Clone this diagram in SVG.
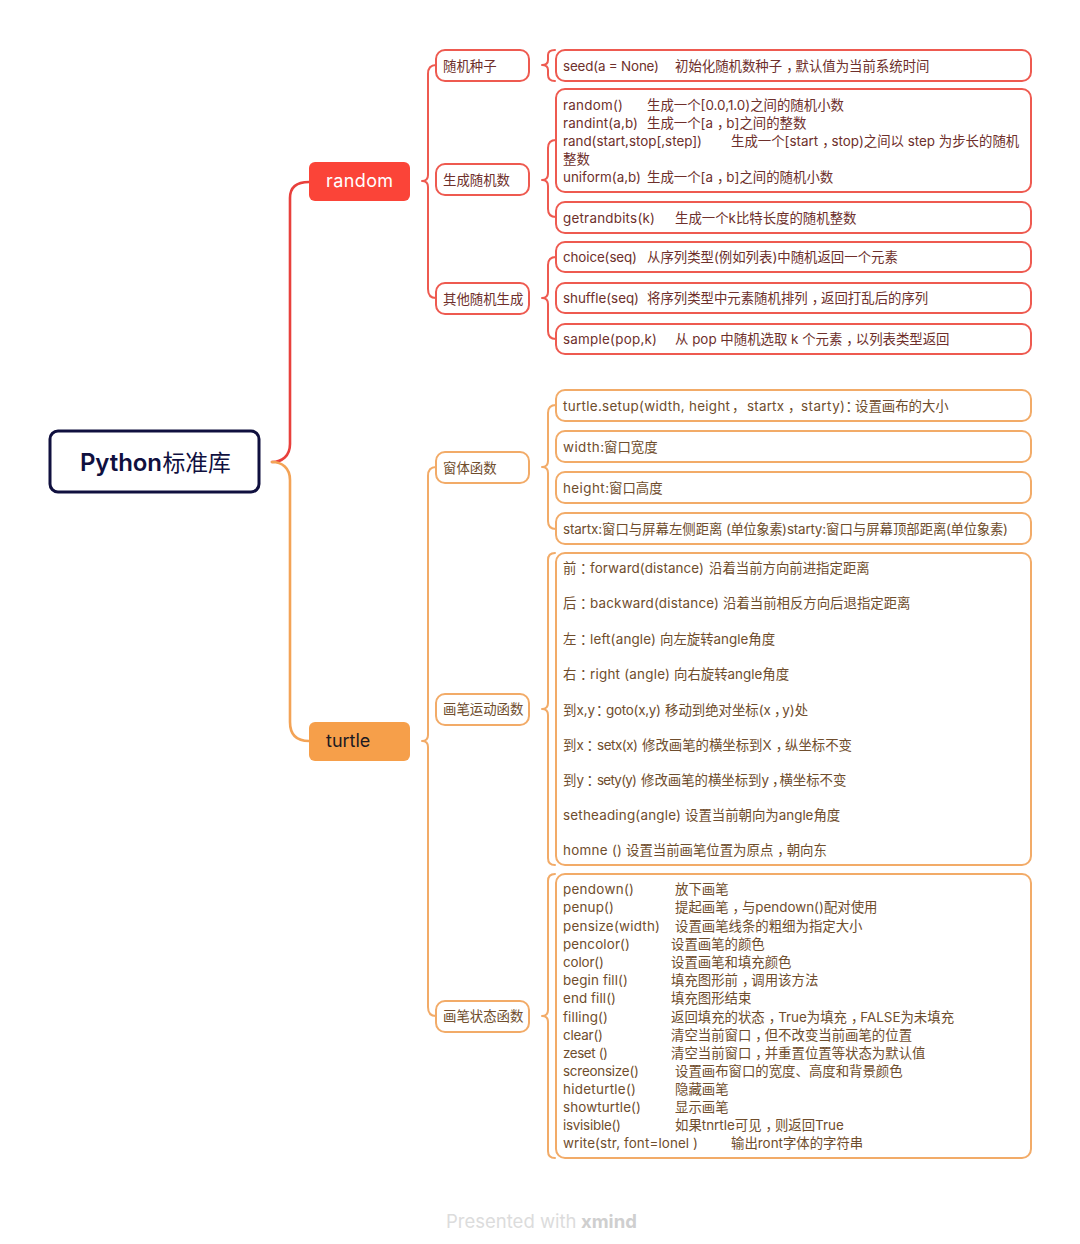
<svg xmlns="http://www.w3.org/2000/svg" width="1080" height="1244" viewBox="0 0 1080 1244">
<style>
text{font-family:"Inter","Noto Sans CJK SC",sans-serif;font-size:13.4px}
.p{letter-spacing:-4px}
.c{fill:none;stroke-width:2;stroke-linecap:round}
.cr{stroke:#ee5a50}.co{stroke:#f2ab68}
.b{fill:#fff;stroke-width:2}
.br{stroke:#ee5a50}.bo{stroke:#f2ab68}
.tr{fill:#6e2f2b}.to{fill:#6f4d2c}
</style>
<rect width="1080" height="1244" fill="#fff"/>
<g id="connectors">
<path class="c" style="stroke:#e8403c;stroke-width:2.6" d="M272 462C282 462 290 456 290 444V198Q290 182 309 182"/>
<path class="c" style="stroke:#f3a356;stroke-width:2.6" d="M272 462C282 462 290 468 290 480V722Q290 741 309 741"/>
<path class="c cr" d="M422 181Q428 181 428 175V74Q428 65 436 65M422 181Q428 181 428 187V289Q428 298 436 298"/>
<path class="c cr" d="M542 65Q548 65 548 60V55Q548 50 555 50M542 65Q548 65 548 70V75Q548 81 555 81"/>
<path class="c cr" d="M542 180Q548 180 548 174V148Q548 140 556 140M542 180Q548 180 548 186V209Q548 217 556 217"/>
<path class="c cr" d="M542 298Q548 298 548 292V265Q548 257 556 257M542 298Q548 298 548 304V331Q548 339 556 339"/>
<path class="c co" d="M422 741Q428 741 428 735V476Q428 467 436 467M422 741Q428 741 428 747V1007Q428 1016 436 1016"/>
<path class="c co" d="M542 467Q548 467 548 461V413Q548 405 556 405M542 467Q548 467 548 473V521Q548 529 556 529"/>
<path class="c co" d="M542 709Q548 709 548 703V560Q548 553 555 553M542 709Q548 709 548 715V858Q548 865 555 865"/>
<path class="c co" d="M542 1016Q548 1016 548 1010V881Q548 874 555 874M542 1016Q548 1016 548 1022V1151Q548 1158 555 1158"/>
</g>
<g id="root"><rect x="50" y="431" width="209" height="61" rx="8" fill="#fff" stroke="#10103f" stroke-width="3"/><text y="471" style="font-size:24px;font-weight:600;fill:#10103f"><tspan x="80" textLength="82">Python</tspan><tspan x="162.500" style="font-size:22.800px;font-weight:400">标准库</tspan></text></g>
<g id="random"><rect x="309" y="162" width="101" height="39" rx="6" fill="#fb4438"/><text x="326" y="187" style="font-size:18px;fill:#fff;letter-spacing:.4px">random</text></g>
<g id="turtle"><rect x="309" y="722" width="101" height="39" rx="6" fill="#f69f4a"/><text x="326" y="747" style="font-size:18px;fill:#1d1a22">turtle</text></g>

<g id="n-seed"><rect class="b br" x="436" y="50" width="93" height="31" rx="9"/><text class="tr" x="443" y="71">随机种子</text></g>
<g id="n-gen"><rect class="b br" x="436" y="164" width="93" height="31" rx="9"/><text class="tr" x="443" y="185">生成随机数</text></g>
<g id="n-other"><rect class="b br" x="436" y="283" width="93" height="31" rx="9"/><text class="tr" x="443" y="304">其他随机生成</text></g>
<g id="n-win"><rect class="b bo" x="436" y="452" width="93" height="31" rx="9"/><text class="to" x="443" y="473">窗体函数</text></g>
<g id="n-move"><rect class="b bo" x="436" y="694" width="93" height="31" rx="9"/><text class="to" x="443" y="714">画笔运动函数</text></g>
<g id="n-state"><rect class="b bo" x="436" y="1001" width="93" height="31" rx="9"/><text class="to" x="443" y="1021">画笔状态函数</text></g>

<g id="l-seed"><rect class="b br" x="556" y="50" width="475" height="31" rx="9"/><text class="tr" y="71"><tspan x="563" textLength="96">seed(a = None)</tspan><tspan x="675">初始化随机数种子</tspan><tspan dx="4" class="p">，</tspan><tspan>默认值为当前系统时间</tspan></text></g>
<g id="l-rand"><rect class="b br" x="556" y="89" width="475" height="103" rx="9"/>
<text class="tr" y="110"><tspan x="563" textLength="60">random()</tspan><tspan x="647">生成一个[0.0,1.0)之间的随机小数</tspan></text>
<text class="tr" y="128"><tspan x="563" textLength="75">randint(a,b)</tspan><tspan x="647">生成一个[a</tspan><tspan dx="4" class="p">，</tspan><tspan>b]之间的整数</tspan></text>
<text class="tr" y="146"><tspan x="563" textLength="139">rand(start,stop[,step])</tspan><tspan x="731">生成一个[start</tspan><tspan dx="4" class="p">，</tspan><tspan>stop)之间以 step 为步长的随机</tspan></text>
<text class="tr" x="563" y="164">整数</text>
<text class="tr" y="182"><tspan x="563" textLength="78">uniform(a,b)</tspan><tspan x="647">生成一个[a</tspan><tspan dx="4" class="p">，</tspan><tspan>b]之间的随机小数</tspan></text></g>
<g id="l-bits"><rect class="b br" x="556" y="202" width="475" height="31" rx="9"/><text class="tr" y="223"><tspan x="563" textLength="92">getrandbits(k)</tspan><tspan x="675">生成一个k比特长度的随机整数</tspan></text></g>
<g id="l-choice"><rect class="b br" x="556" y="242" width="475" height="30" rx="9"/><text class="tr" y="262"><tspan x="563" textLength="74">choice(seq)</tspan><tspan x="647">从序列类型(例如列表)中随机返回一个元素</tspan></text></g>
<g id="l-shuffle"><rect class="b br" x="556" y="283" width="475" height="30" rx="9"/><text class="tr" y="303"><tspan x="563" textLength="76">shuffle(seq)</tspan><tspan x="647">将序列类型中元素随机排列</tspan><tspan dx="4" class="p">，</tspan><tspan>返回打乱后的序列</tspan></text></g>
<g id="l-sample"><rect class="b br" x="556" y="324" width="475" height="30" rx="9"/><text class="tr" y="344"><tspan x="563" textLength="94">sample(pop,k)</tspan><tspan x="675">从 pop 中随机选取 k 个元素</tspan><tspan dx="4" class="p">，</tspan><tspan>以列表类型返回</tspan></text></g>

<g id="l-setup"><rect class="b bo" x="556" y="390" width="475" height="31" rx="9"/><text class="to" y="411"><tspan x="563" textLength="167">turtle.setup(width, height</tspan><tspan x="732" class="p">，</tspan><tspan x="747" textLength="37">startx</tspan><tspan x="788" class="p">，</tspan><tspan x="801" textLength="44">starty)</tspan><tspan x="845.500" class="p">：</tspan><tspan x="855">设置画布的大小</tspan></text></g>
<g id="l-width"><rect class="b bo" x="556" y="431" width="475" height="31" rx="9"/><text class="to" y="452"><tspan x="563" textLength="41">width:</tspan><tspan x="604">窗口宽度</tspan></text></g>
<g id="l-height"><rect class="b bo" x="556" y="472" width="475" height="31" rx="9"/><text class="to" y="493"><tspan x="563" textLength="46">height:</tspan><tspan x="609">窗口高度</tspan></text></g>
<g id="l-startx"><rect class="b bo" x="556" y="513" width="475" height="31" rx="9"/><text class="to" y="534"><tspan x="563" textLength="39">startx:</tspan><tspan x="602">窗口与屏幕左侧距离</tspan><tspan x="726" textLength="61">(单位象素)</tspan><tspan x="787" textLength="39">starty:</tspan><tspan x="826">窗口与屏幕顶部距离</tspan><tspan x="946" textLength="62">(单位象素)</tspan></text></g>

<g id="l-move"><rect class="b bo" x="556" y="553" width="475" height="312" rx="9"/>
<text class="to" y="573"><tspan x="563">前</tspan><tspan x="580" class="p">：</tspan><tspan x="590" textLength="114">forward(distance)</tspan><tspan x="709">沿着当前方向前进指定距离</tspan></text>
<text class="to" y="608"><tspan x="563">后</tspan><tspan x="580" class="p">：</tspan><tspan x="590" textLength="129">backward(distance)</tspan><tspan x="723">沿着当前相反方向后退指定距离</tspan></text>
<text class="to" y="644"><tspan x="563">左</tspan><tspan x="580" class="p">：</tspan><tspan x="590" textLength="66">left(angle)</tspan><tspan x="660">向左旋转angle角度</tspan></text>
<text class="to" y="679"><tspan x="563">右</tspan><tspan x="580" class="p">：</tspan><tspan x="590" textLength="80">right (angle)</tspan><tspan x="674">向右旋转angle角度</tspan></text>
<text class="to" y="715"><tspan x="563">到x,y</tspan><tspan x="596" class="p">：</tspan><tspan x="606" textLength="55">goto(x,y)</tspan><tspan x="665">移动到绝对坐标(x</tspan><tspan dx="3" style="letter-spacing:-5px">，</tspan><tspan>y)处</tspan></text>
<text class="to" y="750"><tspan x="563">到x</tspan><tspan x="586.500" class="p">：</tspan><tspan x="597" textLength="41">setx(x)</tspan><tspan x="642">修改画笔的横坐标到X</tspan><tspan dx="4" class="p">，</tspan><tspan>纵坐标不变</tspan></text>
<text class="to" y="785"><tspan x="563">到y</tspan><tspan x="586.500" class="p">：</tspan><tspan x="597" textLength="40">sety(y)</tspan><tspan x="641">修改画笔的横坐标到y</tspan><tspan dx="3" style="letter-spacing:-6px">，</tspan><tspan>横坐标不变</tspan></text>
<text class="to" y="820"><tspan x="563" textLength="118">setheading(angle)</tspan><tspan x="685">设置当前朝向为angle角度</tspan></text>
<text class="to" y="855"><tspan x="563" textLength="59">homne ()</tspan><tspan x="626">设置当前画笔位置为原点</tspan><tspan dx="4" class="p">，</tspan><tspan>朝向东</tspan></text></g>

<g id="l-state"><rect class="b bo" x="556" y="874" width="475" height="284" rx="9"/>
<text class="to" y="894"><tspan x="563" textLength="71">pendown()</tspan><tspan x="675">放下画笔</tspan></text>
<text class="to" y="912"><tspan x="563" textLength="51">penup()</tspan><tspan x="675">提起画笔</tspan><tspan dx="4" class="p">，</tspan><tspan>与pendown()配对使用</tspan></text>
<text class="to" y="931"><tspan x="563" textLength="97">pensize(width)</tspan><tspan x="675">设置画笔线条的粗细为指定大小</tspan></text>
<text class="to" y="949"><tspan x="563" textLength="67">pencolor()</tspan><tspan x="671">设置画笔的颜色</tspan></text>
<text class="to" y="967"><tspan x="563" textLength="41">color()</tspan><tspan x="671">设置画笔和填充颜色</tspan></text>
<text class="to" y="985"><tspan x="563" textLength="65">begin fill()</tspan><tspan x="671">填充图形前</tspan><tspan dx="4" class="p">，</tspan><tspan>调用该方法</tspan></text>
<text class="to" y="1003"><tspan x="563" textLength="53">end fill()</tspan><tspan x="671">填充图形结束</tspan></text>
<text class="to" y="1022"><tspan x="563" textLength="45">filling()</tspan><tspan x="671">返回填充的状态</tspan><tspan dx="4" class="p">，</tspan><tspan>True为填充</tspan><tspan dx="4" class="p">，</tspan><tspan>FALSE为未填充</tspan></text>
<text class="to" y="1040"><tspan x="563" textLength="40">clear()</tspan><tspan x="671">清空当前窗口</tspan><tspan dx="4" class="p">，</tspan><tspan>但不改变当前画笔的位置</tspan></text>
<text class="to" y="1058"><tspan x="563" textLength="45">zeset ()</tspan><tspan x="671">清空当前窗口</tspan><tspan dx="4" class="p">，</tspan><tspan>并重置位置等状态为默认值</tspan></text>
<text class="to" y="1076"><tspan x="563" textLength="76">screonsize()</tspan><tspan x="675">设置画布窗口的宽度、高度和背景颜色</tspan></text>
<text class="to" y="1094"><tspan x="563" textLength="73">hideturtle()</tspan><tspan x="675">隐藏画笔</tspan></text>
<text class="to" y="1112"><tspan x="563" textLength="78">showturtle()</tspan><tspan x="675">显示画笔</tspan></text>
<text class="to" y="1130"><tspan x="563" textLength="58">isvisible()</tspan><tspan x="675">如果tnrtle可见</tspan><tspan dx="4" class="p">，</tspan><tspan>则返回True</tspan></text>
<text class="to" y="1148"><tspan x="563" textLength="135">write(str, font=lonel )</tspan><tspan x="731">输出ront字体的字符串</tspan></text></g>

<g id="watermark"><text y="1228" style="font-size:18.500px"><tspan x="446" fill="#dcdcdc">Presented with </tspan><tspan x="581" fill="#cfcfcf" font-weight="700">xmind</tspan></text></g>
</svg>
